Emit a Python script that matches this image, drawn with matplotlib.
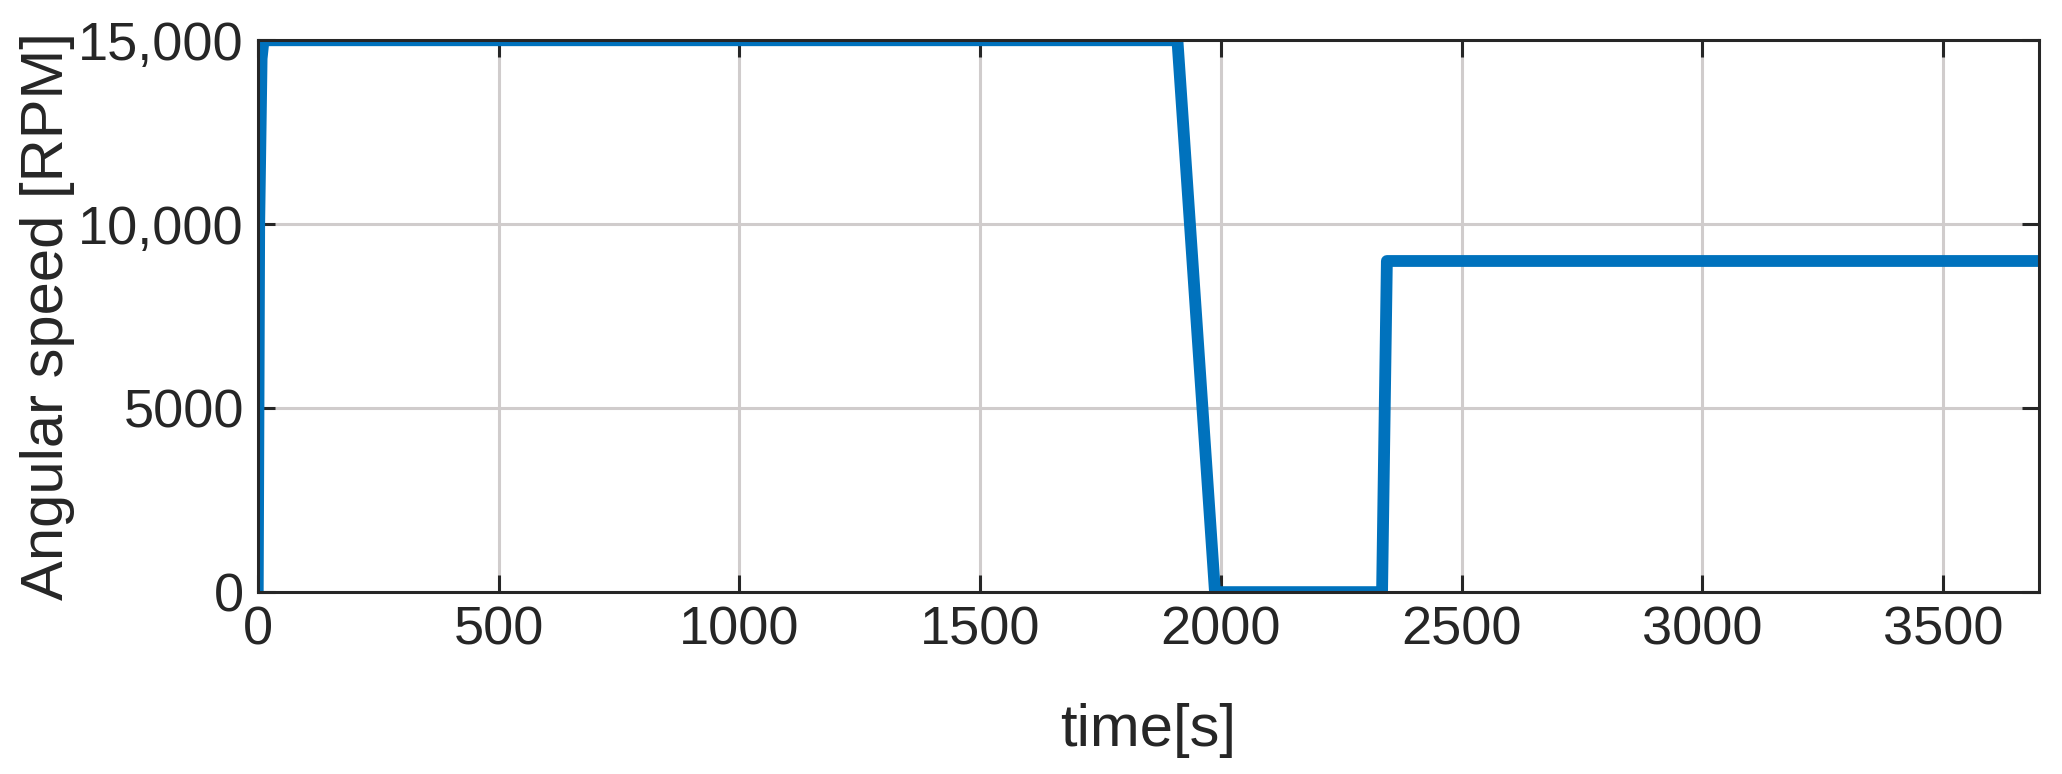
import matplotlib
matplotlib.use("Agg")
import matplotlib.pyplot as plt
from matplotlib.ticker import FuncFormatter

# motor speed profile
time_s = [0, 3, 8, 12, 1910, 1988, 2335, 2345, 3700]
speed_rpm = [0, 10000, 14500, 15000, 15000, 0, 0, 9000, 9000]

x_ticks = [0, 500, 1000, 1500, 2000, 2500, 3000, 3500]
y_ticks = [0, 5000, 10000, 15000]

text_col = '#262626'
plt.rcParams['font.family'] = ['Liberation Sans', 'DejaVu Sans']
plt.rcParams['font.size'] = 39

fig = plt.figure(figsize=(20.62, 7.74), dpi=100)
ax = fig.add_axes([0.125, 0.235, 0.864, 0.713])

ax.plot(time_s, speed_rpm, color='#0072BD', linewidth=8.5, solid_joinstyle='round',
        solid_capstyle='butt', zorder=3)

ax.set_xlim(0, 3700)
ax.set_ylim(0, 15000)
ax.set_xticks(x_ticks)
ax.set_yticks(y_ticks)


def fmt(v, pos):
    v = int(v)
    return f'{v:,}' if v >= 10000 else str(v)


ax.yaxis.set_major_formatter(FuncFormatter(fmt))
ax.grid(True, color='#d0cccc', linewidth=2.2, zorder=0)
ax.tick_params(direction='in', length=12, width=2.2, colors=text_col,
               top=True, right=True, labelsize=39, pad=10)
for s in ax.spines.values():
    s.set_color(text_col)
    s.set_linewidth(2.2)
    s.set_zorder(4)

# labels are 1.1x the tick font, like MATLAB
ax.set_xlabel('time[s]', color=text_col, fontsize=43, labelpad=34)
ax.set_ylabel('Angular speed [RPM]', color=text_col, fontsize=43, labelpad=2)

fig.savefig('out.png', dpi=100, facecolor='white')
